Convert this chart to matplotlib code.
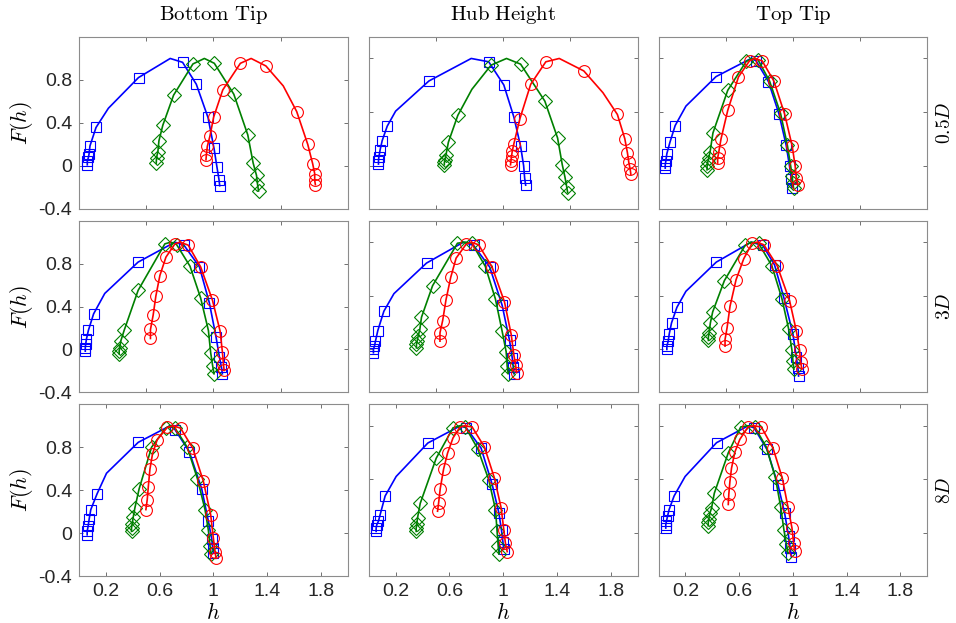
import matplotlib
matplotlib.use("Agg")
import matplotlib.pyplot as plt

plt.rcParams['mathtext.fontset'] = 'cm'
plt.rcParams['font.family'] = ['Liberation Sans', 'DejaVu Sans']

# ---------------- data ----------------
col_titles = [r'$\mathrm{Bottom\ Tip}$', r'$\mathrm{Hub\ Height}$', r'$\mathrm{Top\ Tip}$']
row_labels = [r'$0.5D$', r'$3D$', r'$8D$']

x_ticks_bottom = [0.2, 0.6, 1, 1.4, 1.8]
x_ticks_other = [0.5, 1, 1.5]
y_ticks_left = [-0.4, 0, 0.4, 0.8]
y_ticks_other = [0, 0.5, 1]

# Bottom Tip, 0.5D
bt05_blue_h = [0.062, 0.062, 0.07, 0.075, 0.082, 0.127, 0.219, 0.443, 0.679, 0.771, 0.873, 0.96, 1.005, 1.027, 1.042, 1.047]
bt05_blue_F = [0.009, 0.04, 0.077, 0.109, 0.186, 0.357, 0.536, 0.822, 1.0, 0.964, 0.76, 0.45, 0.161, -0.015, -0.13, -0.186]
bt05_blue_nomark = [6, 8]
bt05_green_h = [0.575, 0.577, 0.587, 0.595, 0.624, 0.704, 0.848, 0.933, 1.007, 1.152, 1.256, 1.296, 1.321, 1.328, 1.336]
bt05_green_F = [0.025, 0.075, 0.13, 0.233, 0.378, 0.658, 0.949, 1.0, 0.955, 0.667, 0.288, 0.025, -0.09, -0.167, -0.235]
bt05_green_nomark = [7]
bt05_red_h = [0.945, 0.948, 0.955, 0.975, 1.002, 1.07, 1.201, 1.281, 1.391, 1.52, 1.62, 1.702, 1.739, 1.754, 1.754, 1.759]
bt05_red_F = [0.056, 0.102, 0.18, 0.279, 0.453, 0.707, 0.955, 1.0, 0.93, 0.744, 0.505, 0.2, 0.018, -0.074, -0.136, -0.176]
bt05_red_nomark = [7, 9]

# Hub Height, 0.5D
hh05_blue_h = [0.0725, 0.0725, 0.075, 0.085, 0.1, 0.1375, 0.2, 0.4475, 0.7625, 0.8925, 1.005, 1.08, 1.13, 1.1525, 1.16, 1.1675]
hh05_blue_F = [0.016, 0.047, 0.078, 0.15, 0.234, 0.369, 0.509, 0.79, 1.0, 0.969, 0.753, 0.453, 0.181, 0.0, -0.116, -0.181]
hh05_blue_nomark = [6, 8]
hh05_green_h = [0.5625, 0.5625, 0.5675, 0.575, 0.5925, 0.6625, 0.7675, 0.91, 1.025, 1.13, 1.31, 1.405, 1.44, 1.46, 1.4725, 1.48]
hh05_green_F = [0.009, 0.031, 0.056, 0.103, 0.219, 0.469, 0.7125, 0.9375, 1.0, 0.947, 0.603, 0.259, 0.009, -0.106, -0.194, -0.25]
hh05_green_nomark = [6, 8]
hh05_red_h = [1.055, 1.0575, 1.0625, 1.0675, 1.08, 1.125, 1.205, 1.3175, 1.4175, 1.6, 1.7425, 1.85, 1.905, 1.925, 1.935, 1.945, 1.95]
hh05_red_F = [0.009, 0.041, 0.0875, 0.134, 0.206, 0.44, 0.759, 0.969, 1.0, 0.884, 0.681, 0.478, 0.253, 0.119, 0.031, -0.031, -0.078]
hh05_red_nomark = [8, 10]

# Top Tip, 0.5D
tt05_blue_h = [0.05, 0.05, 0.055, 0.062, 0.085, 0.124, 0.204, 0.428, 0.689, 0.726, 0.818, 0.896, 0.95, 0.975, 0.988, 0.993]
tt05_blue_F = [-0.022, 0.009, 0.047, 0.1125, 0.219, 0.375, 0.556, 0.831, 1.0, 0.978, 0.784, 0.484, 0.19, -0.006, -0.125, -0.203]
tt05_blue_nomark = [6, 8]
tt05_green_h = [0.361, 0.361, 0.366, 0.373, 0.383, 0.405, 0.515, 0.652, 0.697, 0.739, 0.826, 0.908, 0.958, 0.983, 0.995, 1.0, 1.005]
tt05_green_F = [-0.0375, -0.006, 0.031, 0.072, 0.125, 0.306, 0.703, 0.972, 1.0, 0.99, 0.79, 0.4875, 0.197, 0.0, -0.1, -0.1625, -0.209]
tt05_green_nomark = [8]
tt05_red_h = [0.44, 0.44, 0.448, 0.465, 0.515, 0.595, 0.677, 0.714, 0.771, 0.858, 0.938, 0.995, 1.017, 1.025, 1.037]
tt05_red_F = [0.025, 0.072, 0.125, 0.25, 0.516, 0.828, 0.978, 1.0, 0.978, 0.79, 0.484, 0.181, -0.006, -0.116, -0.178]
tt05_red_nomark = [7]

# Bottom Tip, 3D
bt3_blue_h = [0.047, 0.047, 0.05, 0.055, 0.07, 0.109, 0.192, 0.44, 0.714, 0.781, 0.896, 0.97, 1.02, 1.045, 1.06, 1.067]
bt3_blue_F = [-0.016, 0.016, 0.047, 0.093, 0.177, 0.332, 0.522, 0.814, 1.0, 0.972, 0.77, 0.435, 0.115, -0.071, -0.165, -0.227]
bt3_blue_nomark = [6, 8]
bt3_green_h = [0.299, 0.299, 0.303, 0.311, 0.336, 0.44, 0.639, 0.684, 0.726, 0.826, 0.905, 0.963, 0.98, 0.995, 1.005]
bt3_green_F = [-0.04, -0.016, 0.016, 0.078, 0.177, 0.55, 0.984, 1.0, 0.978, 0.776, 0.481, 0.177, -0.031, -0.155, -0.227]
bt3_green_nomark = [7]
bt3_red_h = [0.532, 0.532, 0.552, 0.572, 0.602, 0.647, 0.714, 0.751, 0.813, 0.905, 0.993, 1.05, 1.067, 1.075, 1.08]
bt3_red_F = [0.102, 0.186, 0.32, 0.497, 0.689, 0.86, 0.984, 1.0, 0.972, 0.77, 0.46, 0.171, -0.022, -0.134, -0.196]
bt3_red_nomark = [7]

# Hub Height, 3D
hh3_blue_h = [0.035, 0.035, 0.0425, 0.05, 0.0675, 0.1125, 0.1875, 0.43, 0.705, 0.78, 0.9, 0.9925, 1.0475, 1.0675, 1.075, 1.08]
hh3_blue_F = [-0.031, 0.0, 0.031, 0.077, 0.176, 0.356, 0.52, 0.805, 1.0, 0.969, 0.768, 0.412, 0.084, -0.077, -0.164, -0.226]
hh3_blue_nomark = [6, 8]
hh3_green_h = [0.355, 0.355, 0.36, 0.3675, 0.38, 0.3925, 0.475, 0.66, 0.7175, 0.7675, 0.8675, 0.9425, 0.9925, 1.0225, 1.03, 1.0375]
hh3_green_F = [0.015, 0.046, 0.077, 0.124, 0.186, 0.3, 0.594, 0.99, 1.0, 0.99, 0.774, 0.47, 0.17, -0.022, -0.155, -0.226]
hh3_green_nomark = [8]
hh3_red_h = [0.53, 0.53, 0.55, 0.575, 0.61, 0.65, 0.725, 0.7625, 0.8175, 0.9175, 1.01, 1.06, 1.08, 1.0925, 1.1]
hh3_red_F = [0.077, 0.155, 0.269, 0.464, 0.672, 0.851, 0.981, 1.0, 0.975, 0.768, 0.443, 0.139, -0.053, -0.146, -0.217]
hh3_red_nomark = [7]

# Top Tip, 3D
tt3_blue_h = [0.062, 0.062, 0.072, 0.08, 0.097, 0.137, 0.204, 0.43, 0.689, 0.776, 0.863, 0.933, 1.0, 1.025, 1.037, 1.042]
tt3_blue_F = [0.0, 0.031, 0.077, 0.146, 0.248, 0.393, 0.542, 0.814, 1.0, 0.969, 0.789, 0.48, 0.146, -0.071, -0.17, -0.248]
tt3_blue_nomark = [6, 8]
tt3_green_h = [0.371, 0.371, 0.376, 0.386, 0.403, 0.49, 0.644, 0.689, 0.744, 0.843, 0.918, 0.968, 0.993, 1.0, 1.007]
tt3_green_F = [0.084, 0.115, 0.155, 0.248, 0.35, 0.641, 0.969, 1.0, 0.99, 0.78, 0.474, 0.192, -0.009, -0.108, -0.186]
tt3_green_nomark = [7]
tt3_red_h = [0.495, 0.495, 0.51, 0.532, 0.577, 0.634, 0.697, 0.734, 0.784, 0.883, 0.975, 1.025, 1.05, 1.057, 1.067]
tt3_red_F = [0.031, 0.093, 0.201, 0.402, 0.65, 0.845, 0.99, 1.0, 0.975, 0.78, 0.455, 0.176, -0.009, -0.115, -0.186]
tt3_red_nomark = [7]

# Bottom Tip, 8D
bt8_blue_h = [0.061, 0.061, 0.068, 0.076, 0.088, 0.135, 0.205, 0.441, 0.677, 0.714, 0.821, 0.913, 0.963, 0.988, 0.995, 1.0]
bt8_blue_F = [-0.016, 0.016, 0.063, 0.132, 0.219, 0.367, 0.558, 0.846, 1.0, 0.965, 0.759, 0.414, 0.11, -0.056, -0.141, -0.188]
bt8_blue_nomark = [6, 8]
bt8_green_h = [0.391, 0.391, 0.396, 0.404, 0.416, 0.448, 0.54, 0.647, 0.677, 0.714, 0.806, 0.881, 0.938, 0.963, 0.975, 0.983]
bt8_green_F = [0.016, 0.047, 0.088, 0.15, 0.235, 0.414, 0.8, 0.98, 1.0, 0.98, 0.8, 0.508, 0.219, 0.025, -0.119, -0.194]
bt8_green_nomark = [8]
bt8_red_h = [0.498, 0.508, 0.516, 0.528, 0.547, 0.582, 0.657, 0.702, 0.756, 0.846, 0.925, 0.98, 1.0, 1.012, 1.02]
bt8_red_F = [0.219, 0.313, 0.433, 0.596, 0.737, 0.871, 0.985, 1.0, 0.978, 0.793, 0.486, 0.172, -0.047, -0.172, -0.235]
bt8_red_nomark = [7]

# Hub Height, 8D
hh8_blue_h = [0.055, 0.055, 0.06, 0.072, 0.085, 0.122, 0.204, 0.44, 0.682, 0.726, 0.836, 0.918, 0.968, 0.988, 0.998, 1.005]
hh8_blue_F = [0.016, 0.047, 0.079, 0.11, 0.173, 0.346, 0.528, 0.84, 1.0, 0.981, 0.792, 0.456, 0.189, 0.025, -0.079, -0.151]
hh8_blue_nomark = [6, 8]
hh8_green_h = [0.353, 0.353, 0.358, 0.363, 0.383, 0.502, 0.627, 0.677, 0.719, 0.811, 0.893, 0.943, 0.955, 0.963, 0.968]
hh8_green_F = [0.016, 0.047, 0.088, 0.142, 0.277, 0.698, 0.981, 1.0, 0.99, 0.786, 0.497, 0.22, 0.016, -0.116, -0.195]
hh8_green_nomark = [7]
hh8_red_h = [0.512, 0.52, 0.532, 0.557, 0.587, 0.627, 0.677, 0.711, 0.769, 0.861, 0.935, 0.985, 1.005, 1.017, 1.03]
hh8_red_F = [0.204, 0.283, 0.415, 0.597, 0.748, 0.887, 0.985, 1.0, 0.99, 0.802, 0.513, 0.236, 0.031, -0.094, -0.173]
hh8_red_nomark = [7]

# Top Tip, 8D
tt8_blue_h = [0.054, 0.054, 0.059, 0.067, 0.079, 0.116, 0.198, 0.432, 0.667, 0.711, 0.807, 0.889, 0.938, 0.968, 0.98, 0.988]
tt8_blue_F = [0.047, 0.079, 0.11, 0.157, 0.22, 0.346, 0.528, 0.843, 1.0, 0.981, 0.78, 0.45, 0.189, -0.031, -0.142, -0.22]
tt8_blue_nomark = [6, 8]
tt8_green_h = [0.37, 0.37, 0.375, 0.383, 0.395, 0.415, 0.519, 0.612, 0.667, 0.716, 0.802, 0.869, 0.909, 0.933, 0.951, 0.963]
tt8_green_F = [0.069, 0.1, 0.135, 0.189, 0.236, 0.371, 0.748, 0.99, 1.0, 0.99, 0.802, 0.519, 0.245, 0.031, -0.1, -0.189]
tt8_green_nomark = [8]
tt8_red_h = [0.519, 0.523, 0.531, 0.543, 0.568, 0.605, 0.667, 0.704, 0.765, 0.852, 0.921, 0.963, 0.993, 1.005, 1.012]
tt8_red_F = [0.267, 0.362, 0.478, 0.604, 0.755, 0.874, 0.99, 1.0, 0.99, 0.792, 0.513, 0.245, 0.047, -0.088, -0.164]
tt8_red_nomark = [7]

panels = [
    ['bt05', 'hh05', 'tt05'],
    ['bt3', 'hh3', 'tt3'],
    ['bt8', 'hh8', 'tt8'],
]
series_styles = [('blue', '#0000ff', 's'), ('green', '#008000', 'D'), ('red', '#ff0000', 'o')]
marker_sizes = {'s': 7.5, 'D': 7.0, 'o': 8.5}

g = globals()

fig, axes = plt.subplots(3, 3, figsize=(9.56, 6.23), dpi=100)
fig.subplots_adjust(left=0.0826, right=0.970, top=0.9406, bottom=0.0754,
                    wspace=0.078, hspace=0.07)

for r in range(3):
    for c in range(3):
        ax = axes[r, c]
        key = panels[r][c]
        for name, color, mk in series_styles:
            h = g[f'{key}_{name}_h']
            F = g[f'{key}_{name}_F']
            nomark = g[f'{key}_{name}_nomark']
            marks = [i for i in range(len(h)) if i not in nomark]
            ax.plot(h, F, color=color, lw=1.2, marker=mk, markevery=marks,
                    markersize=marker_sizes[mk], markerfacecolor='none',
                    markeredgecolor=color, markeredgewidth=0.8)
        ax.set_xlim(0, 2)
        ax.set_ylim(-0.4, 1.2)
        if r == 2:
            ax.set_xticks(x_ticks_bottom)
            ax.set_xticklabels([f'{t:g}' for t in x_ticks_bottom])
            ax.set_xlabel(r'$h$', fontsize=16, labelpad=2)
        else:
            ax.set_xticks(x_ticks_other)
            ax.set_xticklabels([])
        if c == 0:
            ax.set_yticks(y_ticks_left)
            ax.set_yticklabels([f'{t:g}' for t in y_ticks_left])
            ax.set_ylabel(r'$F(h)$', fontsize=16, labelpad=2)
        else:
            ax.set_yticks(y_ticks_other)
            ax.set_yticklabels([])
        ax.tick_params(direction='in', top=True, right=True, length=3,
                       width=0.6, color='0.35', labelsize=14,
                       labelcolor='#262626', pad=5)
        for sp in ax.spines.values():
            sp.set_color('0.55')
            sp.set_linewidth(0.8)
        if r == 0:
            ax.set_title(col_titles[c], fontsize=15, pad=12)

for r in range(3):
    pos = axes[r, 2].get_position()
    yc = (pos.y0 + pos.y1) / 2
    fig.text(0.998, yc, row_labels[r], rotation=90, ha='right', va='center',
             fontsize=14)

fig.savefig('out.png', dpi=100)
